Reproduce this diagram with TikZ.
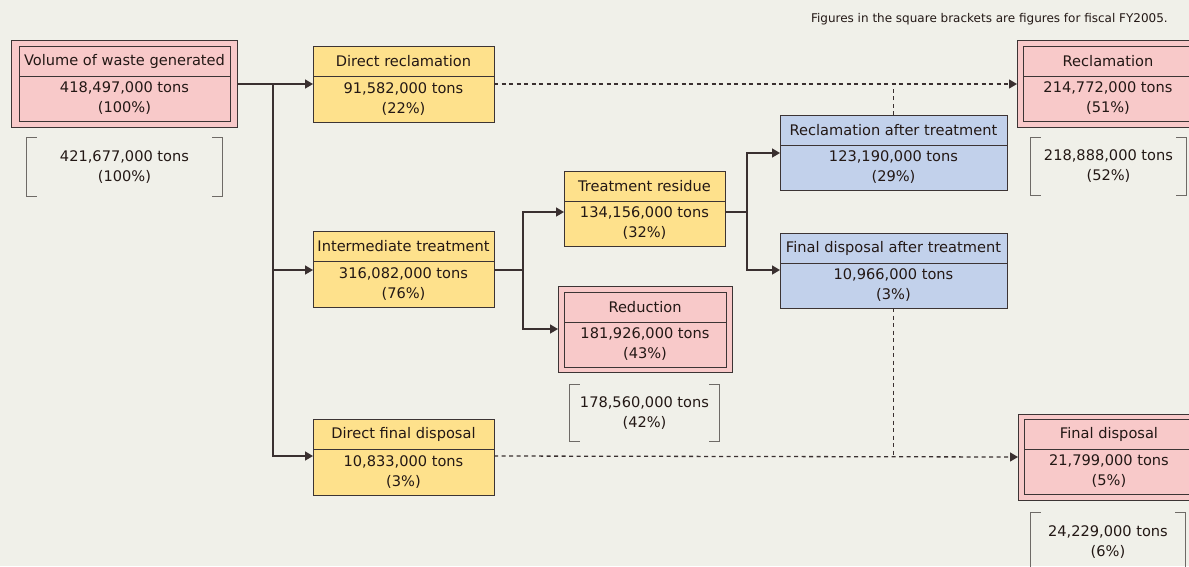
\documentclass[tikz,border=0pt]{standalone}
\usepackage{fontspec}
\setmainfont{DejaVu Sans}
\usepackage{tikz}
\usetikzlibrary{arrows.meta}
\tikzset{>={Triangle[length=8pt,width=9pt]}}
\usetikzlibrary{calc}

\definecolor{bgcol}{HTML}{F0F0E9}
\definecolor{pinkcol}{HTML}{F8C9C9}
\definecolor{yellowcol}{HTML}{FEE18C}
\definecolor{bluecol}{HTML}{C2D1EB}
\definecolor{boxline}{HTML}{3C3434}
\definecolor{arrowcol}{HTML}{3A3030}
\definecolor{brkcol}{HTML}{6E6A66}
\definecolor{ink}{HTML}{231815}

\tikzset{
  head/.style={draw=boxline, line width=0.9pt, anchor=north west, minimum width=#1,
    minimum height=30, inner sep=0pt, outer sep=0pt, text=ink, font=\fontsize{14.6}{20}\selectfont},
  val/.style={draw=boxline, line width=0.9pt, anchor=north, minimum width=#1,
    minimum height=46, inner sep=0pt, outer sep=0pt, align=center, text=ink, font=\fontsize{14.6}{20}\selectfont},
  outerbox/.style={draw=boxline, line width=0.9pt, fill=pinkcol, anchor=north west, inner sep=0pt, outer sep=0pt},
  note/.style={align=center, inner sep=0pt, text=ink, font=\fontsize{14.6}{20}\selectfont},
  flow/.style={draw=arrowcol, line width=1.6pt},
  dashflow/.style={draw=arrowcol, line width=1.3pt, dash pattern=on 4pt off 3.5pt},
  brk/.style={draw=brkcol, line width=1pt}
}

\begin{document}
\begin{tikzpicture}[x=1pt, y=-1pt]
  \useasboundingbox (0,0) rectangle (1189,566);
  \clip (0,0) rectangle (1189,566);
  \fill[bgcol] (0,0) rectangle (1189,566);

  \node[anchor=base east, inner sep=0pt, text=ink, font=\fontsize{12}{14}\selectfont] (cap) at (1168,22)
    {Figures in the square brackets are figures for fiscal FY2005.};

  % generated
  \node[outerbox, minimum width=226, minimum height=87] (gen-o) at (11,40) {};
  \node[head=211, fill=pinkcol] (gen-h) at (19,46) {Volume of waste generated};
  \node[val=211, fill=pinkcol, minimum height=45] (gen-v) at (gen-h.south) {418,497,000 tons\\(100\%)};
  \node[note, minimum width=195, minimum height=58] (gen-b) at (124.5,167) {421,677,000 tons\\(100\%)};

  % first level
  \node[head=181, fill=yellowcol] (dirrec-h) at (313,46) {Direct reclamation};
  \node[val=181, fill=yellowcol] (dirrec-v) at (dirrec-h.south) {91,582,000 tons\\(22\%)};
  \node[head=181, fill=yellowcol] (inter-h) at (313,231) {Intermediate treatment};
  \node[val=181, fill=yellowcol] (inter-v) at (inter-h.south) {316,082,000 tons\\(76\%)};
  \node[head=181, fill=yellowcol] (dirfin-h) at (313,419) {Direct final disposal};
  \node[val=181, fill=yellowcol] (dirfin-v) at (dirfin-h.south) {10,833,000 tons\\(3\%)};

  % after intermediate treatment
  \node[head=161, fill=yellowcol] (resid-h) at (564,171) {Treatment residue};
  \node[val=161, fill=yellowcol, minimum height=45] (resid-v) at (resid-h.south) {134,156,000 tons\\(32\%)};
  \node[outerbox, minimum width=174, minimum height=86] (red-o) at (558,286) {};
  \node[head=162, fill=pinkcol] (red-h) at (564,292) {Reduction};
  \node[val=162, fill=pinkcol, minimum height=45] (red-v) at (red-h.south) {181,926,000 tons\\(43\%)};
  \node[note, minimum width=149, minimum height=56] (red-b) at (644.5,413) {178,560,000 tons\\(42\%)};

  \node[head=227, fill=bluecol] (rat-h) at (780,115) {Reclamation after treatment};
  \node[val=227, fill=bluecol, minimum height=45] (rat-v) at (rat-h.south) {123,190,000 tons\\(29\%)};
  \node[head=227, fill=bluecol] (fat-h) at (780,233) {Final disposal after treatment};
  \node[val=227, fill=bluecol, minimum height=45] (fat-v) at (fat-h.south) {10,966,000 tons\\(3\%)};

  % results
  \node[outerbox, minimum width=182, minimum height=87] (recl-o) at (1017,40) {};
  \node[head=170, fill=pinkcol] (recl-h) at (1023,46) {Reclamation};
  \node[val=170, fill=pinkcol, minimum height=45] (recl-v) at (recl-h.south) {214,772,000 tons\\(51\%)};
  \node[note, minimum width=155, minimum height=57] (recl-b) at (1108.5,166.5) {218,888,000 tons\\(52\%)};

  \node[outerbox, minimum width=182, minimum height=86] (fin-o) at (1018,414) {};
  \node[head=170, fill=pinkcol] (fin-h) at (1024,419) {Final disposal};
  \node[val=170, fill=pinkcol, minimum height=45] (fin-v) at (fin-h.south) {21,799,000 tons\\(5\%)};
  \node[note, minimum width=154, minimum height=58] (fin-b) at (1108,542) {24,229,000 tons\\(6\%)};

  % brackets
  \foreach \b in {gen-b,red-b,recl-b,fin-b}
    \draw[brk] ($(\b.north west)+(10,0)$) -| (\b.south west) -- ++(10,0)
               ($(\b.north east)+(-10,0)$) -| (\b.south east) -- ++(-10,0);

  % solid flows
  \coordinate (j1) at (273,84);
  \draw[flow, ->] (gen-o.east |- j1) -- (dirrec-v.west |- j1);
  \draw[flow, ->] (j1) |- ($(inter-v.north west)+(0,9)$);
  \draw[flow, ->] (j1) |- ($(dirfin-v.north west)+(0,7)$);

  \coordinate (j2) at ($(inter-v.north east)+(29,9)$);
  \draw[flow] ($(inter-v.north east)+(0,9)$) -- (j2);
  \draw[flow, ->] (j2) |- ($(resid-v.north west)+(0,11)$);
  \draw[flow, ->] (j2) |- ($(red-o.north west)+(0,43)$);

  \coordinate (j3) at ($(resid-v.north east)+(22,11)$);
  \draw[flow] ($(resid-v.north east)+(0,11)$) -- (j3);
  \draw[flow, ->] (j3) |- ($(rat-v.north west)+(0,8)$);
  \draw[flow, ->] (j3) |- ($(fat-v.north west)+(0,7)$);

  % dashed flows
  \coordinate (j4) at ($(dirfin-v.north east)+(0,7)$);
  \draw[dashflow, ->] ($(dirrec-v.north east)+(0,8)$) -- ($(recl-o.north west)+(0,44)$);
  \draw[dashflow] (rat-h.north) -- (rat-h.north |- j1);
  \draw[dashflow] (fat-v.south) -- (fat-v.south |- j4);
  \draw[dashflow, ->] (j4) -- ($(fin-o.north west)+(0,43)$);
\end{tikzpicture}
\end{document}
